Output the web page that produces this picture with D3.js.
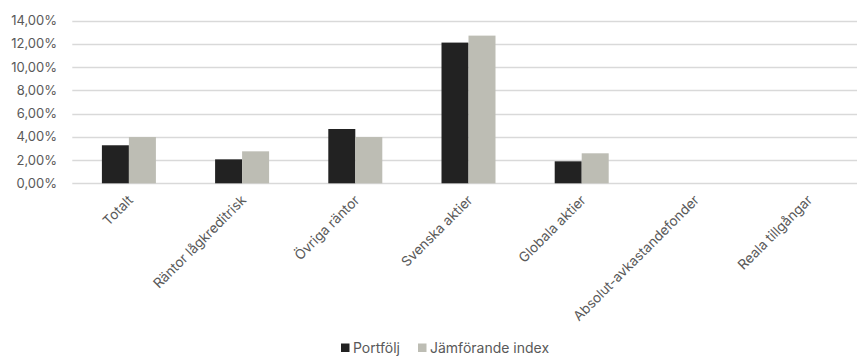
<!DOCTYPE html>
<html><head><meta charset="utf-8">
<script src="https://cdn.jsdelivr.net/npm/d3@7"></script>
<style>
html,body{margin:0;padding:0;background:#fff;overflow:hidden;}
text{font-family:Inter,"Open Sans",sans-serif;fill:#595959;}
</style></head>
<body><svg id="c" width="857" height="356"></svg>
<script>
const categories = ["Totalt","Räntor lågkreditrisk","Övriga räntor","Svenska aktier","Globala aktier","Absolut-avkastandefonder","Reala tillgångar"];
const seriesNames = ["Portfölj","Jämförande index"];
const portfolj = [3.27, 2.06, 4.67, 12.10, 1.89, null, null];
const jamforande = [3.98, 2.75, 3.98, 12.70, 2.58, null, null];
const yTicks = [0,2,4,6,8,10,12,14];
const colors = ["#222222","#bdbdb4"];

const svg = d3.select("#c");
const x0 = d3.scaleBand().domain(categories).range([72.3, 864.7]).paddingInner(0.523).paddingOuter(0.2615);
const x1 = d3.scaleBand().domain(seriesNames).range([0, x0.bandwidth()]);
const y = d3.scaleLinear().domain([0,14]).range([183.3, 20.5]);
const fmt = v => v.toFixed(2).replace(".", ",") + "%";

// gridlines
svg.append("g").selectAll("line").data(yTicks).join("line")
  .attr("x1", 72.3).attr("x2", 857)
  .attr("y1", d => Math.round(y(d)) + 0.5).attr("y2", d => Math.round(y(d)) + 0.5)
  .attr("stroke", "#d9d9d9").attr("stroke-width", 1.3);

// y labels
svg.append("g").selectAll("text").data(yTicks).join("text")
  .attr("x", 57).attr("y", d => y(d)).attr("dy", "0.35em")
  .attr("text-anchor", "end").style("font-size", "13px")
  .text(fmt);

// bars
const series = [portfolj, jamforande];
series.forEach((vals, si) => {
  svg.append("g").selectAll("rect")
    .data(categories.map((c, i) => ({c, v: vals[i]})).filter(d => d.v != null))
    .join("rect")
    .attr("x", d => x0(d.c) + x1(seriesNames[si]))
    .attr("width", x1.bandwidth())
    .attr("y", d => y(d.v))
    .attr("height", d => y(0) - y(d.v))
    .attr("fill", colors[si]);
});

// x labels
svg.append("g").selectAll("text").data(categories).join("text")
  .attr("transform", d => `translate(${x0(d) + x0.bandwidth()/2 + 5},${201}) rotate(-45)`)
  .attr("text-anchor", "end").style("font-size", "13.6px")
  .text(d => d);

// legend
const leg = svg.append("g");
const legItems = [{n: seriesNames[0], x: 341, c: colors[0]}, {n: seriesNames[1], x: 418, c: colors[1]}];
legItems.forEach(it => {
  leg.append("rect").attr("x", it.x).attr("y", 343.5).attr("width", 8.5).attr("height", 8.5).attr("fill", it.c);
  leg.append("text").attr("x", it.x + 12).attr("y", 347.8).attr("dy", "0.35em").style("font-size", "14px").text(it.n);
});
</script></body></html>
